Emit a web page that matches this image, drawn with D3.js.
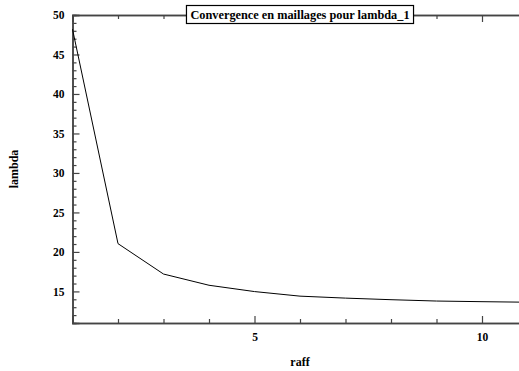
<!DOCTYPE html>
<html>
<head>
<meta charset="utf-8">
<script src="https://cdn.jsdelivr.net/npm/d3@7"></script>
<style>
  body { margin: 0; background: #fff; overflow: hidden; }
  svg text { font-family: "Liberation Serif", "DejaVu Serif", serif; font-weight: bold; }
</style>
</head>
<body>
<div id="chart"></div>
<script>
const raff = [1, 2, 3, 4, 5, 6, 7, 8, 9, 10, 11];
const lambda = [48.2, 21.05, 17.2, 15.78, 14.98, 14.4, 14.15, 13.95, 13.78, 13.7, 13.63];
const xMajor = [5, 10];
const yMajor = [15, 20, 25, 30, 35, 40, 45, 50];
const title = 'Convergence en maillages pour lambda_1';

const width = 519, height = 371;
const margin = { left: 72.5, top: 15, bottom: 48 };

const x = d3.scaleLinear().domain([1, 11]).range([margin.left, margin.left + 455]);
const y = d3.scaleLinear().domain([11, 50]).range([height - margin.bottom, margin.top]);

const svg = d3.select('#chart').append('svg')
  .attr('width', width)
  .attr('height', height);

const data = raff.map((r, i) => ({ r, v: lambda[i] }));

// minor tick helper
const minor = (ticks, major) => ticks.filter(t => !major.includes(t));
const xMinor = minor(d3.range(1, 12), xMajor);
const yMinor = minor(d3.range(12, 50), yMajor);

const axisColor = '#444';

let xAxisBottom = g => g
  .attr('transform', `translate(0,${y.range()[0]})`)
  .call(d3.axisBottom(x).tickValues(xMajor).tickSize(-7).tickPadding(10).tickFormat(d3.format('d')))
  .call(g => g.append('g').call(d3.axisBottom(x).tickValues(xMinor).tickSize(-4).tickFormat('')));

let xAxisTop = g => g
  .attr('transform', `translate(0,${y.range()[1]})`)
  .call(d3.axisTop(x).tickValues(xMajor).tickSize(-7).tickFormat(''))
  .call(g => g.append('g').call(d3.axisTop(x).tickValues(xMinor).tickSize(-4).tickFormat('')));

let yAxis = g => g
  .attr('transform', `translate(${margin.left},0)`)
  .call(d3.axisLeft(y).tickValues(yMajor).tickSize(-7).tickPadding(8).tickFormat(d3.format('d')))
  .call(g => g.append('g').call(d3.axisLeft(y).tickValues(yMinor).tickSize(-4).tickFormat('')));

const style = g => {
  g.attr('font-family', 'Liberation Serif').attr('font-size', 11.5);
  g.selectAll('.domain').attr('stroke', axisColor).attr('stroke-width', 1.5);
  g.selectAll('.tick line').attr('stroke', axisColor).attr('stroke-width', 1.2);
  g.selectAll('.tick text').attr('fill', '#000');
};

svg.append('g').call(xAxisBottom).call(style);
svg.append('g').call(xAxisTop).call(style);
svg.append('g').call(yAxis).call(style);

let line = d3.line()
  .x(d => x(d.r))
  .y(d => y(d.v));

svg.append('path')
  .datum(data)
  .attr('fill', 'none')
  .attr('stroke', '#000')
  .attr('stroke-width', 1)
  .attr('d', line);

// title box
const tcx = (x.range()[0] + x.range()[1]) / 2;
const box = svg.append('rect');
const tt = svg.append('text')
  .attr('x', tcx)
  .attr('y', 18.5)
  .attr('text-anchor', 'middle')
  .style('font-size', '12.3px')
  .text(title);
const bb = tt.node().getBBox();
box
  .attr('x', bb.x - 4)
  .attr('y', 5.5)
  .attr('width', bb.width + 8)
  .attr('height', 18)
  .attr('fill', '#fff')
  .attr('stroke', '#000')
  .attr('stroke-width', 1.2);

svg.append('text')
  .attr('transform', `translate(${tcx},${y.range()[0] + 43})`)
  .attr('text-anchor', 'middle')
  .style('font-size', '12px')
  .text('raff');

svg.append('text')
  .attr('transform', `translate(18,${(y.range()[0] + y.range()[1]) / 2}) rotate(-90)`)
  .attr('text-anchor', 'middle')
  .style('font-size', '12px')
  .text('lambda');
</script>
</body>
</html>
